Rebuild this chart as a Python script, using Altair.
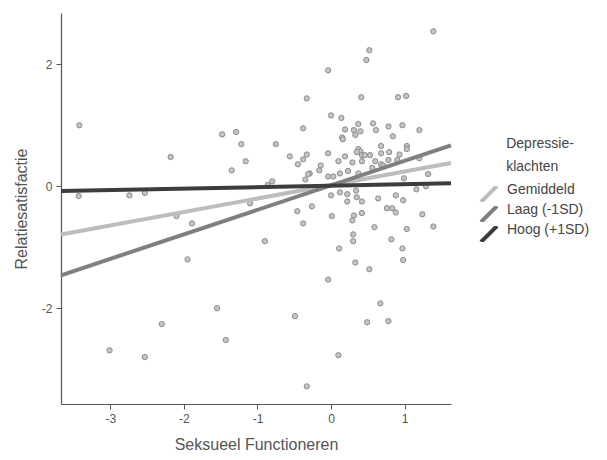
import altair as alt
import pandas as pd

# Scatter points: Seksueel Functioneren (x) vs Relatiesatisfactie (y)
sf = [-3.42, -1.48, -1.29, -1.22, -2.18, -1.16, -1.35, -3.43, -2.74, -2.53,
      1.39, 0.52, 0.48, -0.04, -0.33, 0.41, 0.91, 1.02, 0.00, 0.14,
      -0.38, 0.19, 0.31, 0.40, 0.37, 0.57, 0.61, 0.78, 0.97, 1.20,
      0.33, 0.15, 0.16, 0.84, -0.75, -0.56, -0.33, -0.38, -0.45, -0.04,
      0.19, 0.37, 0.40, 0.35, 0.42, 0.46, 0.53, 0.68, 0.68, 0.79,
      0.93, 1.03, 1.03, 0.10, 0.29, 0.42, 0.60, 0.68, 0.78, 0.90,
      1.20, -0.14, -0.16, -0.29, -0.31, -0.35, -0.04, 0.03, 0.12, 0.23,
      0.37, 0.56, 0.71, 0.99, 1.32, -0.80, -0.86, 0.00, 0.12, 0.22,
      0.35, 0.34, 0.64, 0.88, 0.98, 1.16, 1.29, 0.22, 0.42, -0.26,
      -0.46, -0.38, 0.01, 0.31, 0.29, 0.42, 0.30, 0.30, 0.11, 0.33,
      -0.04, -0.90, 0.59, 0.76, 0.83, 0.88, 1.03, 1.24, 1.39, 0.82,
      0.97, 0.98, 0.52, 0.67, -0.49, 0.49, 0.78, 0.10, -0.33, -2.10,
      -1.89, -1.95, -1.55, -2.30, -1.43, -3.01, -2.53, -1.10]
rs = [1.00, 0.85, 0.89, 0.69, 0.48, 0.41, 0.26, -0.16, -0.15, -0.11,
      2.54, 2.23, 2.07, 1.90, 1.44, 1.46, 1.46, 1.48, 1.16, 1.12,
      0.95, 0.93, 0.92, 0.90, 1.02, 1.03, 0.92, 0.98, 1.00, 0.92,
      0.84, 0.80, 0.77, 0.82, 0.69, 0.49, 0.52, 0.44, 0.36, 0.54,
      0.49, 0.61, 0.57, 0.56, 0.51, 0.51, 0.51, 0.66, 0.54, 0.56,
      0.52, 0.66, 0.61, 0.41, 0.39, 0.41, 0.41, 0.36, 0.43, 0.43,
      0.46, 0.34, 0.26, 0.21, 0.20, 0.11, 0.16, 0.16, 0.21, 0.25,
      0.21, 0.30, 0.34, 0.13, 0.20, 0.08, 0.02, -0.15, -0.10, -0.13,
      -0.18, -0.07, -0.20, -0.15, -0.23, -0.05, 0.00, -0.25, -0.25, -0.33,
      -0.41, -0.61, -0.49, -0.48, -0.56, -0.44, -0.79, -0.90, -1.02, -1.25,
      -1.53, -0.90, -0.67, -0.36, -0.36, -0.43, -0.70, -0.46, -0.66, -0.87,
      -1.02, -1.21, -1.36, -1.92, -2.13, -2.23, -2.21, -2.77, -3.28, -0.49,
      -0.61, -1.20, -2.00, -2.26, -2.52, -2.69, -2.80, -0.28]

# Simple-slope lines (endpoints)
groups = ["Gemiddeld", "Laag (-1SD)", "Hoog (+1SD)"]
x_start = [-3.67, -3.67, -3.67]
x_end = [1.63, 1.63, 1.63]
y_start = [-0.79, -1.46, -0.08]
y_end = [0.38, 0.67, 0.05]
colors = ["#bdbdbd", "#7f7f7f", "#3d3d3d"]

pts = pd.DataFrame({"sf": sf, "rs": rs})
rows = []
for g, xs, xe, ys, ye in zip(groups, x_start, x_end, y_start, y_end):
    rows.append({"group": g, "sf": xs, "rs": ys})
    rows.append({"group": g, "sf": xe, "rs": ye})
lines = pd.DataFrame(rows)

xscale = alt.Scale(domain=[-3.67, 1.63], nice=False, zero=False)
yscale = alt.Scale(domain=[-3.57, 2.84], nice=False, zero=False)

xaxis = alt.Axis(title="Seksueel Functioneren", values=[-3, -2, -1, 0, 1],
                 labelExpr="'' + datum.value")
yaxis = alt.Axis(title="Relatiesatisfactie", values=[-2, 0, 2],
                 labelExpr="'' + datum.value")

points = alt.Chart(pts).mark_point(
    shape="circle", filled=True, size=28, fill="#c4c4c4", stroke="#8c8c8c", strokeWidth=1, opacity=1
).encode(
    x=alt.X("sf:Q", scale=xscale, axis=xaxis),
    y=alt.Y("rs:Q", scale=yscale, axis=yaxis),
)

indent = "\u200b" + "\u00a0" * 7
line_layer = alt.Chart(lines).mark_line(strokeWidth=4).encode(
    x=alt.X("sf:Q", scale=xscale, axis=xaxis),
    y=alt.Y("rs:Q", scale=yscale, axis=yaxis),
    color=alt.Color(
        "group:N",
        scale=alt.Scale(domain=groups, range=colors),
        legend=alt.Legend(
            title=[indent + "Depressie-", indent + "klachten"],
            orient="none",
            legendX=418,
            legendY=124,
            symbolType="M-1,1L1,-1",
            symbolSize=256,
            symbolStrokeWidth=4,
            clipHeight=16,
            labelFontSize=14,
            labelBaseline="alphabetic",
            titleFontSize=14,
            titleFontWeight="normal",
            titleLineHeight=23,
            titleColor="#444444",
            labelColor="#444444",
            titlePadding=12,
            rowPadding=1,
            labelOffset=8,
        ),
    ),
    detail="group:N",
)

chart = alt.layer(points, line_layer).properties(
    width=390, height=391
).configure(
    font="Liberation Sans"
).configure_view(
    stroke=None
).configure_axis(
    grid=False,
    domainColor="#555555",
    tickColor="#555555",
    labelColor="#555555",
    titleColor="#555555",
    labelFontSize=12,
    titleFontSize=16,
    titleFontWeight="normal",
    tickSize=5,
    labelPadding=4,
    domainWidth=1.2,
).configure_axisX(
    titlePadding=12,
).configure_axisY(
    titlePadding=12,
)

chart.save("out.html", embed_options={"renderer": "svg", "actions": False})
